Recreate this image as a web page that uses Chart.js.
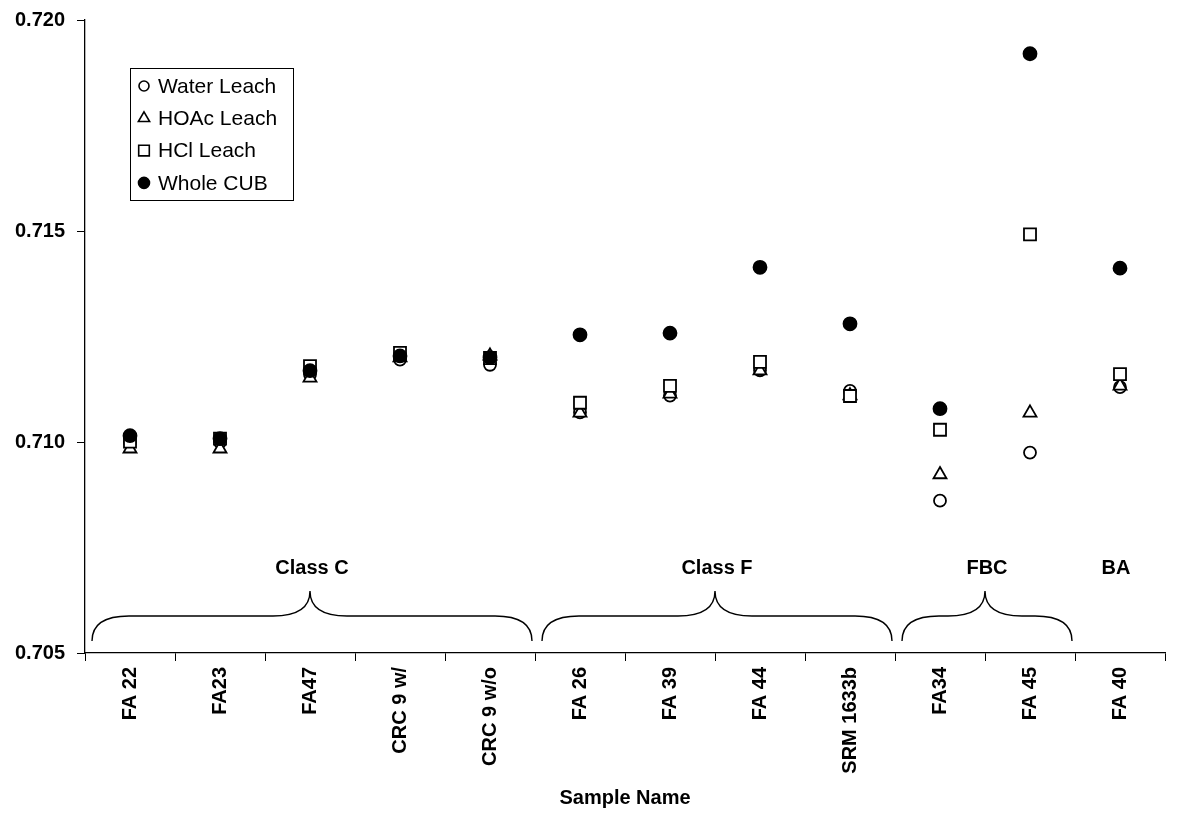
<!DOCTYPE html>
<html>
<head>
<meta charset="utf-8">
<script src="https://cdn.jsdelivr.net/npm/chart.js@4"></script>
<style>
  html, body { margin: 0; padding: 0; background: #fff; }
  #wrap { width: 1177px; height: 815px; }
</style>
</head>
<body>
<div id="wrap"><canvas id="chart"></canvas></div>
<script>
// sample names along the x axis
const categories = ['FA 22', 'FA23', 'FA47', 'CRC 9 w/', 'CRC 9 w/o', 'FA 26', 'FA 39', 'FA 44', 'SRM 1633b', 'FA34', 'FA 45', 'FA 40'];

// 87Sr/86Sr
const waterLeach = [0.71000, 0.71000, 0.71160, 0.71195, 0.71183, 0.71070, 0.71110, 0.71170, 0.71121, 0.70861, 0.70975, 0.71130];
const hoacLeach  = [0.70984, 0.70984, 0.71152, 0.71200, 0.71204, 0.71069, 0.71114, 0.71169, 0.71110, 0.70923, 0.71069, 0.71133];
const hclLeach   = [0.71001, 0.71008, 0.71180, 0.71211, 0.71199, 0.71093, 0.71133, 0.71190, 0.71109, 0.71029, 0.71492, 0.71161];
const wholeCub   = [0.71015, 0.71008, 0.71169, 0.71204, 0.71200, 0.71254, 0.71258, 0.71414, 0.71280, 0.71079, 0.71920, 0.71412];

const seriesNames = ['Water Leach', 'HOAc Leach', 'HCl Leach', 'Whole CUB'];
const yTicks = [0.705, 0.710, 0.715, 0.720];

// sample groups marked under the points
const groupNames = ['Class C', 'Class F', 'FBC', 'BA'];
const groupFirst = [0, 5, 9, 11];
const groupLast  = [4, 8, 10, 11];
const groupBrace = [true, true, true, false];

const FONT = 'Arial, "Liberation Sans", Helvetica, sans-serif';

const markers = [
  { style: 'circle',   radius: 6,   legendRadius: 5,   fill: '#fff' },
  { style: 'triangle', radius: 7.5, legendRadius: 6.5, fill: '#fff' },
  { style: 'rect',     radius: 8.5, legendRadius: 7.5, fill: '#fff' },
  { style: 'circle',   radius: 6.5, legendRadius: 5.5, fill: '#000' }
];

const seriesValues = [waterLeach, hoacLeach, hclLeach, wholeCub];

const datasets = seriesValues.map((vals, i) => ({
  label: seriesNames[i],
  data: vals,
  showLine: false,
  pointStyle: markers[i].style,
  pointRadius: markers[i].radius,
  pointHoverRadius: markers[i].radius,
  pointBackgroundColor: markers[i].fill,
  pointBorderColor: '#000',
  pointBorderWidth: 1.8,
  order: seriesNames.length - 1 - i   // later series on top, like the original
}));

const bracePlugin = {
  id: 'braces',
  afterDraw(chart) {
    const ctx = chart.ctx;
    const x = chart.scales.x;
    const bottom = chart.chartArea.bottom;
    const half = (x.getPixelForValue(1) - x.getPixelForValue(0)) / 2;
    const yEnd = bottom - 12, yMid = bottom - 37, yTip = bottom - 62;
    ctx.save();
    ctx.strokeStyle = '#000';
    ctx.lineWidth = 1.4;
    ctx.fillStyle = '#000';
    ctx.font = 'bold 20px ' + FONT;
    ctx.textAlign = 'center';
    ctx.textBaseline = 'middle';
    groupNames.forEach((name, i) => {
      const a = x.getPixelForValue(groupFirst[i]) - half;
      const b = x.getPixelForValue(groupLast[i]) + half;
      const m = (a + b) / 2;
      if (groupBrace[i]) {
        const x1 = a + 7, x2 = b - 3, r = 37;
        ctx.beginPath();
        ctx.moveTo(x1, yEnd);
        ctx.quadraticCurveTo(x1, yMid, x1 + r, yMid);
        ctx.lineTo(m - r, yMid);
        ctx.quadraticCurveTo(m, yMid, m, yTip);
        ctx.quadraticCurveTo(m, yMid, m + r, yMid);
        ctx.lineTo(x2 - r, yMid);
        ctx.quadraticCurveTo(x2, yMid, x2, yEnd);
        ctx.stroke();
      }
      ctx.fillText(name, m + (groupBrace[i] ? 2 : -4), bottom - 85);
    });
    ctx.restore();
  }
};

const legendBoxPlugin = {
  id: 'legendBox',
  afterDraw(chart) {
    const ctx = chart.ctx;
    const left = 130, top = 68, w = 163, h = 132;
    ctx.save();
    ctx.fillStyle = '#fff';
    ctx.fillRect(left, top, w, h);
    ctx.strokeStyle = '#000';
    ctx.lineWidth = 1;
    ctx.strokeRect(left + 0.5, top + 0.5, w, h);
    ctx.font = '21px ' + FONT;
    ctx.textBaseline = 'middle';
    ctx.textAlign = 'left';
    chart.data.datasets.forEach((ds, i) => {
      const cy = top + 18 + i * 32.3;
      ctx.fillStyle = markers[i].fill;
      ctx.strokeStyle = '#000';
      ctx.lineWidth = 1.6;
      Chart.helpers.drawPoint(ctx, { pointStyle: markers[i].style, radius: markers[i].legendRadius, rotation: 0, borderWidth: 1.6 }, left + 14, cy);
      ctx.fillStyle = '#000';
      ctx.fillText(ds.label, left + 28, cy + 1);
    });
    ctx.restore();
  }
};

new Chart(document.getElementById('chart'), {
  type: 'line',
  data: { labels: categories, datasets: datasets },
  plugins: [bracePlugin, legendBoxPlugin],
  options: {
    responsive: true,
    maintainAspectRatio: false,
    animation: false,
    layout: { padding: { top: 18, right: 12, bottom: 0, left: 0 } },
    plugins: {
      legend: { display: false },
      tooltip: { enabled: false }
    },
    scales: {
      x: {
        type: 'category',
        offset: true,
        grid: { offset: true, drawOnChartArea: false, tickLength: 8, color: '#000', tickColor: '#000' },
        border: { color: '#000', width: 1.3 },
        ticks: {
          autoSkip: false,
          minRotation: 90,
          maxRotation: 90,
          padding: 6,
          color: '#000',
          font: { family: FONT, size: 20, weight: 'bold' }
        },
        title: {
          display: true,
          text: 'Sample Name',
          color: '#000',
          padding: { top: 5, bottom: 5 },
          font: { family: FONT, size: 20, weight: 'bold' }
        },
        afterFit(scale) { scale.height = 162; }
      },
      y: {
        min: 0.705,
        max: 0.720,
        afterBuildTicks(scale) { scale.ticks = yTicks.map(v => ({ value: v })); },
        grid: { drawOnChartArea: false, tickLength: 8, color: '#000', tickColor: '#000' },
        border: { color: '#000', width: 1.3 },
        ticks: {
          padding: 12,
          color: '#000',
          font: { family: FONT, size: 20, weight: 'bold', lineHeight: 0.8 },
          callback: v => Number(v).toFixed(3)
        },
        afterFit(scale) { scale.width = 85; }
      }
    }
  }
});
</script>
</body>
</html>
